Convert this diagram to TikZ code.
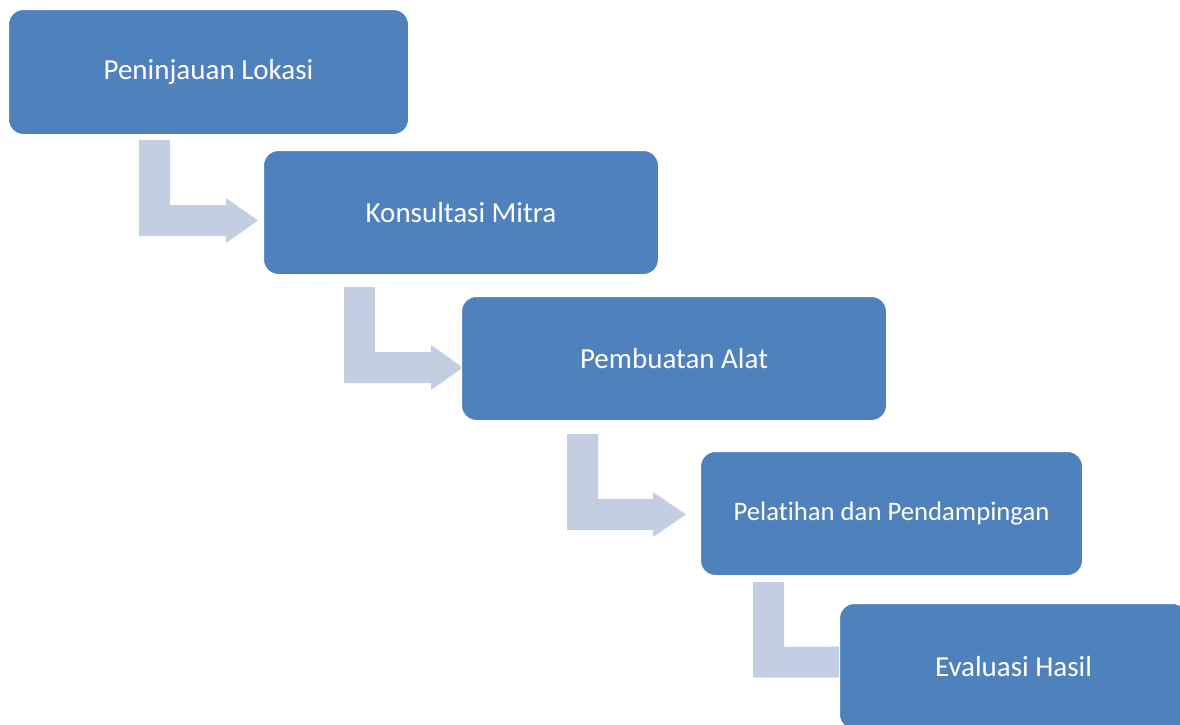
\documentclass[tikz,border=0pt]{standalone}
\usepackage{fontspec}
\setmainfont{Carlito}[Ligatures=NoCommon]
\definecolor{boxblue}{HTML}{4F81BD}
\definecolor{arrowgrey}{HTML}{C4CEE3}
\tikzset{
  stepbox/.style={draw=white, line width=1pt, fill=boxblue, rounded corners=15pt,
    text=white, font=\fontsize{29}{34}\selectfont, inner sep=0pt, anchor=north west},
  bent/.style={fill=arrowgrey, draw=none}
}
\newcommand\bentarr[6]{% name, xl, ytop, yc, xback, xtip
  \coordinate (#1s) at (#2+15.5,#3);
  \coordinate (#1e) at (#6,#4);
  \fill[bent] (#2,#3) -- (#2+31,#3) -- (#2+31,#4-15.5) -- (#5,#4-15.5) -- (#5,#4-22.5)
    -- (#1e) -- (#5,#4+22.5) -- (#5,#4+15.5) -- (#2,#4+15.5) -- cycle;
}
\begin{document}
\begin{tikzpicture}[x=1pt,y=-1pt]
\useasboundingbox (0,0) rectangle (1180,724);
\clip (0,0) rectangle (1180,724);
\bentarr{a1}{139}{140}{220.5}{226}{258}
\bentarr{a2}{344}{287}{367.5}{431}{463}
\bentarr{a3}{567}{434}{514.5}{653}{686}
\bentarr{a4}{753}{582}{662}{850}{882}
\node[stepbox, minimum width=400pt, minimum height=125pt] (b1) at (8,9) {Peninjauan Lokasi};
\node[stepbox, minimum width=395pt, minimum height=124pt] (b2) at (263,150) {Konsultasi Mitra};
\node[stepbox, minimum width=425pt, minimum height=124pt] (b3) at (461,296) {Pembuatan Alat};
\node[stepbox, minimum width=382pt, minimum height=124pt, font=\fontsize{26.7}{32}\selectfont] (b4) at (700,451) {Pelatihan dan Pendampingan};
\node[stepbox, minimum width=348pt, minimum height=126pt] (b5) at (839,603) {Evaluasi Hasil};
\end{tikzpicture}
\end{document}
